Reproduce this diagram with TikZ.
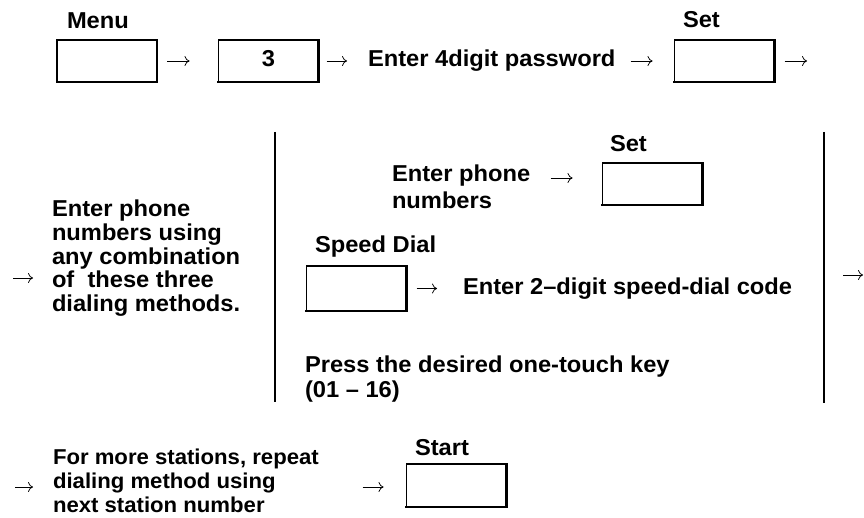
\documentclass[tikz,border=0pt]{standalone}
\usepackage{fontspec}
\setmainfont{Liberation Sans}[FakeStretch=1.03]
\usetikzlibrary{arrows.meta}
\tikzset{
  keybox/.style={draw, line width=1.1pt, minimum width=100pt, minimum height=42pt,
    inner sep=0pt, outer sep=0pt, font=\bfseries\fontsize{23}{26}\selectfont},
  keyedge/.style={line width=2.6pt, line cap=rect},
  lbl/.style={inner sep=0pt, outer sep=0pt, anchor=base west,
    font=\bfseries\fontsize{23}{#1}\selectfont},
  lbl/.default=23.3,
  smalllbl/.style={inner sep=0pt, outer sep=0pt, anchor=base west,
    font=\bfseries\fontsize{21.5}{24}\selectfont},
  arr/.style={line width=0.75pt, -{Computer Modern Rightarrow[length=5pt,width=10pt]}},
  sepline/.style={line width=2pt}
}
\begin{document}
\begin{tikzpicture}[x=1pt,y=-1pt]
\useasboundingbox (0,0) rectangle (864,518);

% keys
\node[keybox] (b1) at (107,61) {};
\node[keybox, text height=12pt, text depth=0pt] (b2) at (268.5,61) {3};
\node[keybox] (b3) at (724.5,61) {};
\node[keybox] (b4) at (652.5,184) {};
\node[keybox, minimum height=45pt] (b5) at (356.5,288.5) {};
\node[keybox, minimum height=43pt] (b6) at (456.5,485.5) {};
\foreach \b in {b1,b2,b3,b4,b5,b6}
  \draw[keyedge] (\b.north east) -- (\b.south east) -- (\b.south west);

% labels and texts
\node[lbl] (lmenu) at (67,29) {Menu};
\node[lbl] (lset1) at (683,28) {Set};
\node[lbl] (pw) at (368,67) {Enter 4digit password};
\node[lbl] (meth) at (52,217) {\begin{tabular}[t]{@{}l@{}}Enter phone\\numbers using\\any combination\\of\ \ these three\\dialing methods.\end{tabular}};
\node[lbl=26.5] (ph) at (392,182) {\begin{tabular}[t]{@{}l@{}}Enter phone\\numbers\end{tabular}};
\node[lbl] (lset2) at (610,152) {Set};
\node[lbl] (lsd) at (315,253) {Speed Dial};
\node[lbl] (code) at (463,295) {Enter 2–digit speed-dial code};
\node[lbl=25] (press) at (305,372) {\begin{tabular}[t]{@{}l@{}}Press the desired one-touch key\\(01 – 16)\end{tabular}};
\node[smalllbl] (more) at (53,464) {\begin{tabular}[t]{@{}l@{}}For more stations, repeat\\dialing method using\\next station number\end{tabular}};
\node[lbl] (lstart) at (415,455) {Start};

% free ends
\coordinate (e1) at (807,61);
\coordinate (s2) at (13,278);
\coordinate (e2a) at (843,275);
\coordinate (e2b) at (863,275);
\coordinate (s3) at (15,487);

% separators
\draw[sepline] (275,132) -- (275,402);
\draw[sepline] (824,132) -- (824,403);

% arrows
\draw[arr, shorten <=10pt, shorten >=29pt] (b1.east) -- (b2.west);
\draw[arr, shorten <=8pt, shorten >=21pt] (b2.east) -- (b2.east -| pw.west);
\draw[arr, shorten >=22pt] ([xshift=-44pt]b3.west) -- (b3.west);
\draw[arr, shorten <=10pt] (b3.east) -- (e1);
\draw[arr, shorten >=19pt] (s2) -- (s2 -| meth.west);
\draw[arr, shorten >=30pt] ([xshift=-52pt,yshift=6pt]b4.west) -- ([yshift=6pt]b4.west);
\draw[arr, shorten <=10pt, shorten >=26pt] (b5.east) -- (b5.east -| code.west);
\draw[arr] (e2a) -- (e2b);
\draw[arr, shorten >=20pt] (s3) -- (s3 -| more.west);
\draw[arr, shorten >=23pt] ([xshift=-44pt,yshift=-1.5pt]b6.west) -- ([yshift=-1.5pt]b6.west);
\end{tikzpicture}
\end{document}
